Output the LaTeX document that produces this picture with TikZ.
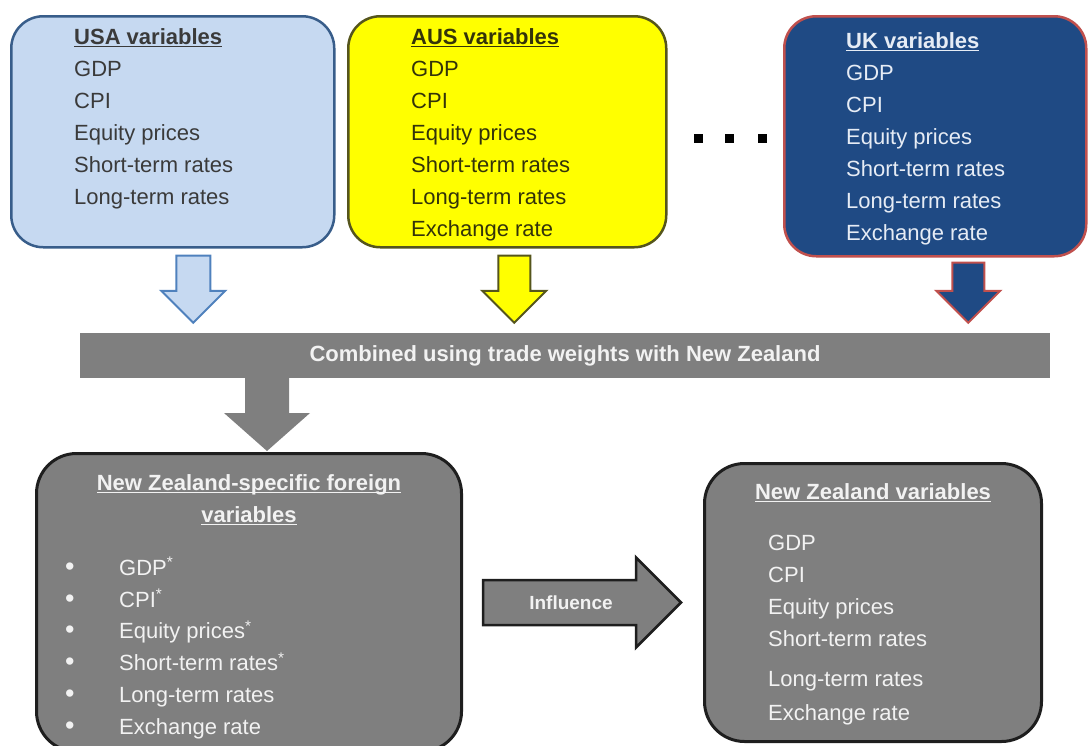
\documentclass[tikz,border=0pt]{standalone}
\usepackage{fontspec}
\setmainfont{Liberation Sans}
\usepackage{tikz}
\usetikzlibrary{calc}
\usetikzlibrary{positioning}

\definecolor{usafill}{HTML}{C6D9F1}
\definecolor{usaline}{HTML}{385D8A}
\definecolor{usaarrow}{HTML}{4F81BD}
\definecolor{usatext}{HTML}{3A3A3A}
\definecolor{ausfill}{HTML}{FFFF00}
\definecolor{ausline}{HTML}{55551C}
\definecolor{austext}{HTML}{33330A}
\definecolor{ukfill}{HTML}{1F4A84}
\definecolor{ukline}{HTML}{C0504D}
\definecolor{uktext}{HTML}{E6ECF5}
\definecolor{nzgray}{HTML}{7F7F7F}
\definecolor{nzline}{HTML}{1E1E1E}
\definecolor{nztext}{HTML}{F2F2F2}

\newsavebox{\titlebox}
\newcommand{\vtitle}[1]{\sbox{\titlebox}{\bfseries #1}%
  \rlap{\rule[-3.2pt]{\wd\titlebox}{1.6pt}}\usebox{\titlebox}}
\newcommand{\nzbullet}{\makebox[54pt][l]{\fontsize{27}{32}\selectfont\textbullet}}
% down block arrow: style, start, target, shaft half, head half, head length
\newcommand{\downblock}[6]{%
  \path[#1] let \p1=(#2), \p2=(#3) in
    (\x1-#4,\y1) -- (\x1+#4,\y1) -- (\x1+#4,\y2+#6) -- (\x1+#5,\y2+#6)
    -- (\x1,\y2) -- (\x1-#5,\y2+#6) -- (\x1-#4,\y2+#6) -- cycle;}
% right block arrow: style, start, target, shaft half, head half, head length
\newcommand{\rightblock}[6]{%
  \path[#1] let \p1=(#2), \p2=(#3) in
    (\x1,\y1+#4) -- (\x2-#6,\y1+#4) -- (\x2-#6,\y1+#5) -- (\x2,\y1)
    -- (\x2-#6,\y1-#5) -- (\x2-#6,\y1-#4) -- (\x1,\y1-#4) -- cycle;}

\begin{document}
\begin{tikzpicture}[x=1pt,y=-1pt,
    varbox/.style={draw, rounded corners=32pt, anchor=north west, inner sep=0pt},
    nzbox/.style={varbox, fill=nzgray, draw=nzline, line width=3pt, rounded corners=40pt},
    vartext/.style={inner sep=0pt, align=left, anchor=north west,
      font=\fontsize{22}{32}\selectfont},
    bandtext/.style={text=nztext, font=\fontsize{22}{26}\selectfont\bfseries}]
  \clip (0,0) rectangle (1088,745);

  % foreign country boxes
  \node[varbox, fill=usafill, draw=usaline, line width=2.5pt,
    minimum width=323pt, minimum height=231pt] (usa) at (10,15) {};
  \node[varbox, fill=ausfill, draw=ausline, line width=2.5pt,
    minimum width=318pt, minimum height=231pt] (aus) at (347,15) {};
  \node[varbox, fill=ukfill, draw=ukline, line width=2.5pt,
    minimum width=302pt, minimum height=240pt] (uk) at (783,15) {};

  \node[vartext, text=usatext] (usalist) at ([xshift=64pt,yshift=-13pt]usa.north west)
    {\vtitle{USA variables}\\GDP\\CPI\\Equity prices\\Short-term rates\\Long-term rates};
  \node[vartext, text=austext] (auslist) at ([xshift=64pt,yshift=-13pt]aus.north west)
    {\vtitle{AUS variables}\\GDP\\CPI\\Equity prices\\Short-term rates\\Long-term rates\\Exchange rate};
  \node[vartext, text=uktext] (uklist) at ([xshift=63pt,yshift=-17pt]uk.north west)
    {\vtitle{UK variables}\\GDP\\CPI\\Equity prices\\Short-term rates\\Long-term rates\\Exchange rate};

  \foreach \dx in {698,729,762}
    \fill[black] (\dx-4.5,133.5) rectangle (\dx+4.5,142.5);

  % trade weight band
  \node[fill=nzgray, minimum width=970pt, minimum height=45pt, inner sep=0pt,
    bandtext] (band) at (565,355.5) {Combined using trade weights with New Zealand};

  \downblock{fill=usafill, draw=usaarrow, line width=2pt}{[xshift=20.5pt,yshift=-7pt]usa.south}{[yshift=10pt]band.north}{17pt}{32pt}{32pt}
  \downblock{fill=ausfill, draw=ausline, line width=2pt}{[xshift=7pt,yshift=-7pt]aus.south}{[yshift=10pt]band.north}{16pt}{32pt}{32pt}
  \downblock{fill=ukfill, draw=ukline, line width=2pt}{[xshift=33pt,yshift=-5pt]uk.south}{[yshift=10pt]band.north}{16pt}{32pt}{32pt}

  % New Zealand boxes
  \node[nzbox, minimum width=425pt, minimum height=298pt] (nzf) at (35,452) {};
  \node[nzbox, minimum width=337pt, minimum height=278pt] (nzv) at (703,462) {};

  \downblock{fill=nzgray}{[xshift=-298pt]band.south}{[yshift=1pt]nzf.north}{22pt}{43pt}{38pt}

  \node[vartext, align=center, anchor=north, text=nztext] (nzftitle) at ([yshift=-22pt]nzf.north)
    {\vtitle{New Zealand-specific foreign}\\\vtitle{variables}};
  \node[vartext, text=nztext, font=\fontsize{22}{31.8}\selectfont] (nzflist) at ([xshift=30pt,yshift=-105pt]nzf.north west)
    {\nzbullet GDP\textsuperscript{*}\\
     \nzbullet CPI\textsuperscript{*}\\
     \nzbullet Equity prices\textsuperscript{*}\\
     \nzbullet Short-term rates\textsuperscript{*}\\
     \nzbullet Long-term rates\\
     \nzbullet Exchange rate};

  \node[vartext, align=center, anchor=north, text=nztext] (nzvtitle) at ([yshift=-21pt]nzv.north)
    {\vtitle{New Zealand variables}};
  \node[vartext, text=nztext] (nzvlist) at ([xshift=65pt,yshift=-73pt]nzv.north west)
    {GDP\\CPI\\Equity prices\\Short-term rates\\[8pt]Long-term rates\\[2pt]Exchange rate};

  % influence arrow
  \rightblock{fill=nzgray, draw=nzline, line width=2.5pt}{[xshift=20pt]nzf.east}{[xshift=-22pt]nzv.west}{22.5pt}{45pt}{45pt}
  \node[bandtext, font=\fontsize{19}{22}\selectfont\bfseries] (infl) at ([xshift=108pt]nzf.east) {Influence};
\end{tikzpicture}
\end{document}
